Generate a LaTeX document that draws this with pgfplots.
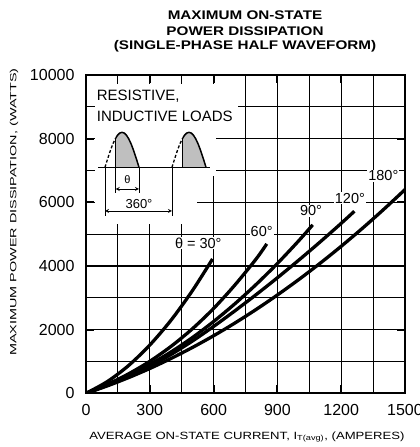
\documentclass[border=0pt]{standalone}
\usepackage{fontspec}
\setmainfont{Liberation Sans}
\usepackage{graphicx}
\usepackage{pgfplots}
\pgfplotsset{compat=1.18}
\begin{document}
\begin{tikzpicture}[x=1pt,y=1pt]
\path[use as bounding box] (0,0) rectangle (420,447);
\begin{axis}[
  at={(86pt,53.7pt)}, anchor=south west,
  scale only axis, width=319pt, height=318.3pt,
  xmin=0, xmax=1500, ymin=0, ymax=10000,
  xtick={0,300,...,1500}, ytick={0,2000,...,10000},
  minor xtick={150,450,...,1350}, minor ytick={1000,3000,...,9000},
  grid=both,
  major grid style={black, line width=1.1pt},
  minor grid style={black, line width=1.1pt},
  tick align=inside, major tick length=8pt, minor tick length=0pt,
  every tick/.style={black, line width=2pt},
  axis line style={line width=2pt},
  ticklabel style={font=\fontsize{16}{18}\selectfont},
  /pgf/number format/assume math mode=true,
  /pgf/number format/1000 sep={},
  scaled ticks=false,
  xticklabel style={yshift=-7pt},
  yticklabel style={xshift=-8pt},
]
\addplot[black, line width=3.3pt, smooth] coordinates {
(0,0)(100,367)(200,871)(300,1516)(400,2298)(500,3221)(595,4220)};
\addplot[black, line width=3.3pt, smooth] coordinates {
(0,0)(100,280)(200,610)(300,1005)(400,1475)(500,2025)(600,2665)(700,3401)(800,4220)(850,4695)};
\addplot[black, line width=3.3pt, smooth] coordinates {
(0,0)(100,260)(200,560)(300,905)(400,1300)(500,1750)(600,2255)(700,2812)(800,3420)(900,4079)(1000,4790)(1066,5292)};
\addplot[black, line width=3.3pt, smooth] coordinates {
(0,0)(100,250)(200,530)(300,850)(400,1220)(500,1640)(600,2100)(700,2590)(800,3100)(900,3630)(1000,4180)(1100,4750)(1200,5340)(1262,5720)};
\addplot[black, line width=3.3pt, smooth] coordinates {
(0,0)(100,232)(200,492)(300,779)(400,1095)(500,1438)(600,1808)(700,2207)(800,2634)(900,3089)(1000,3571)(1100,4081)(1200,4619)(1300,5185)(1400,5779)(1500,6400)};
\node[fill=white, inner sep=1pt, font=\fontsize{14.5}{16}\selectfont] at (axis cs:528,4717) {θ = 30°};
\node[fill=white, inner sep=1pt, font=\fontsize{14.5}{16}\selectfont] at (axis cs:826,5082) {60°};
\node[fill=white, inner sep=1pt, font=\fontsize{14.5}{16}\selectfont] at (axis cs:1058,5733) {90°};
\node[fill=white, inner sep=1pt, font=\fontsize{14.5}{16}\selectfont] at (axis cs:1241,6132) {120°};
\node[fill=white, inner sep=1pt, font=\fontsize{14.5}{16}\selectfont] at (axis cs:1398,6833) {180°};
\end{axis}
% white-out of the inset area
\fill[white] (95,271) rectangle (216,363);
\fill[white] (95,321) rectangle (238,363);
\fill[white] (95,223) rectangle (197,271);
\node[anchor=west, inner sep=0pt, font=\fontsize{15}{17}\selectfont] at (96.7,350.3) {RESISTIVE,};
\node[anchor=west, inner sep=0pt, font=\fontsize{15}{17}\selectfont] at (96.7,330.3) {INDUCTIVE LOADS};
% waveform
\foreach \s in {0,67}{
  \begin{scope}[xshift=\s]
    \begin{scope}
      \clip (115.7,270) rectangle (145,320);
      \fill[gray!50] (105,279.7) sin (122,314.7) cos (139,279.7) -- cycle;
      \draw[line width=1.5pt] (105,279.7) sin (122,314.7) cos (139,279.7);
    \end{scope}
    \begin{scope}
      \clip (100,270) rectangle (115.7,320);
      \draw[line width=1.3pt, dash pattern=on 3pt off 2pt] (105,279.7) sin (122,314.7) cos (139,279.7);
    \end{scope}
    \draw[line width=1pt] (115.7,279.7) -- (115.7,308.9);
  \end{scope}
}
\draw[line width=1.3pt] (98.3,279.7) -- (210,279.7);
% theta dimension
\draw[line width=0.8pt] (115.7,254) -- (115.7,279.7);
\draw[line width=0.8pt] (139,254) -- (139,279.7);
\draw[<->, >=stealth, line width=0.8pt] (115.7,258) -- (139,258);
\node[font=\fontsize{11}{12}\selectfont, inner sep=0pt] at (127.4,267) {θ};
% 360 dimension
\draw[line width=0.8pt] (105,231) -- (105,279.7);
\draw[line width=0.8pt] (172,231) -- (172,279.7);
\draw[<->, >=stealth, line width=0.8pt] (105,236) -- (172,236);
\node[font=\fontsize{13}{14}\selectfont, inner sep=0pt] at (139,243) {360°};
% titles and labels
\node[font=\bfseries\fontsize{12.5}{14}\selectfont] at (245,432) {\scalebox{1.22}[1]{MAXIMUM ON-STATE}};
\node[font=\bfseries\fontsize{12.5}{14}\selectfont] at (245,416) {\scalebox{1.22}[1]{POWER DISSIPATION}};
\node[font=\bfseries\fontsize{12.5}{14}\selectfont] at (245,401) {\scalebox{1.22}[1]{(SINGLE-PHASE HALF WAVEFORM)}};
\node[font=\fontsize{10.5}{12}\selectfont] at (247,10) {\scalebox{1.25}[1]{AVERAGE ON-STATE CURRENT, I\textsubscript{T(avg)}, (AMPERES)}};
\node[rotate=90, font=\fontsize{9}{10}\selectfont] at (14,235) {\scalebox{1.6}[1]{MAXIMUM POWER DISSIPATION, (WATTS)}};
\end{tikzpicture}
\end{document}
